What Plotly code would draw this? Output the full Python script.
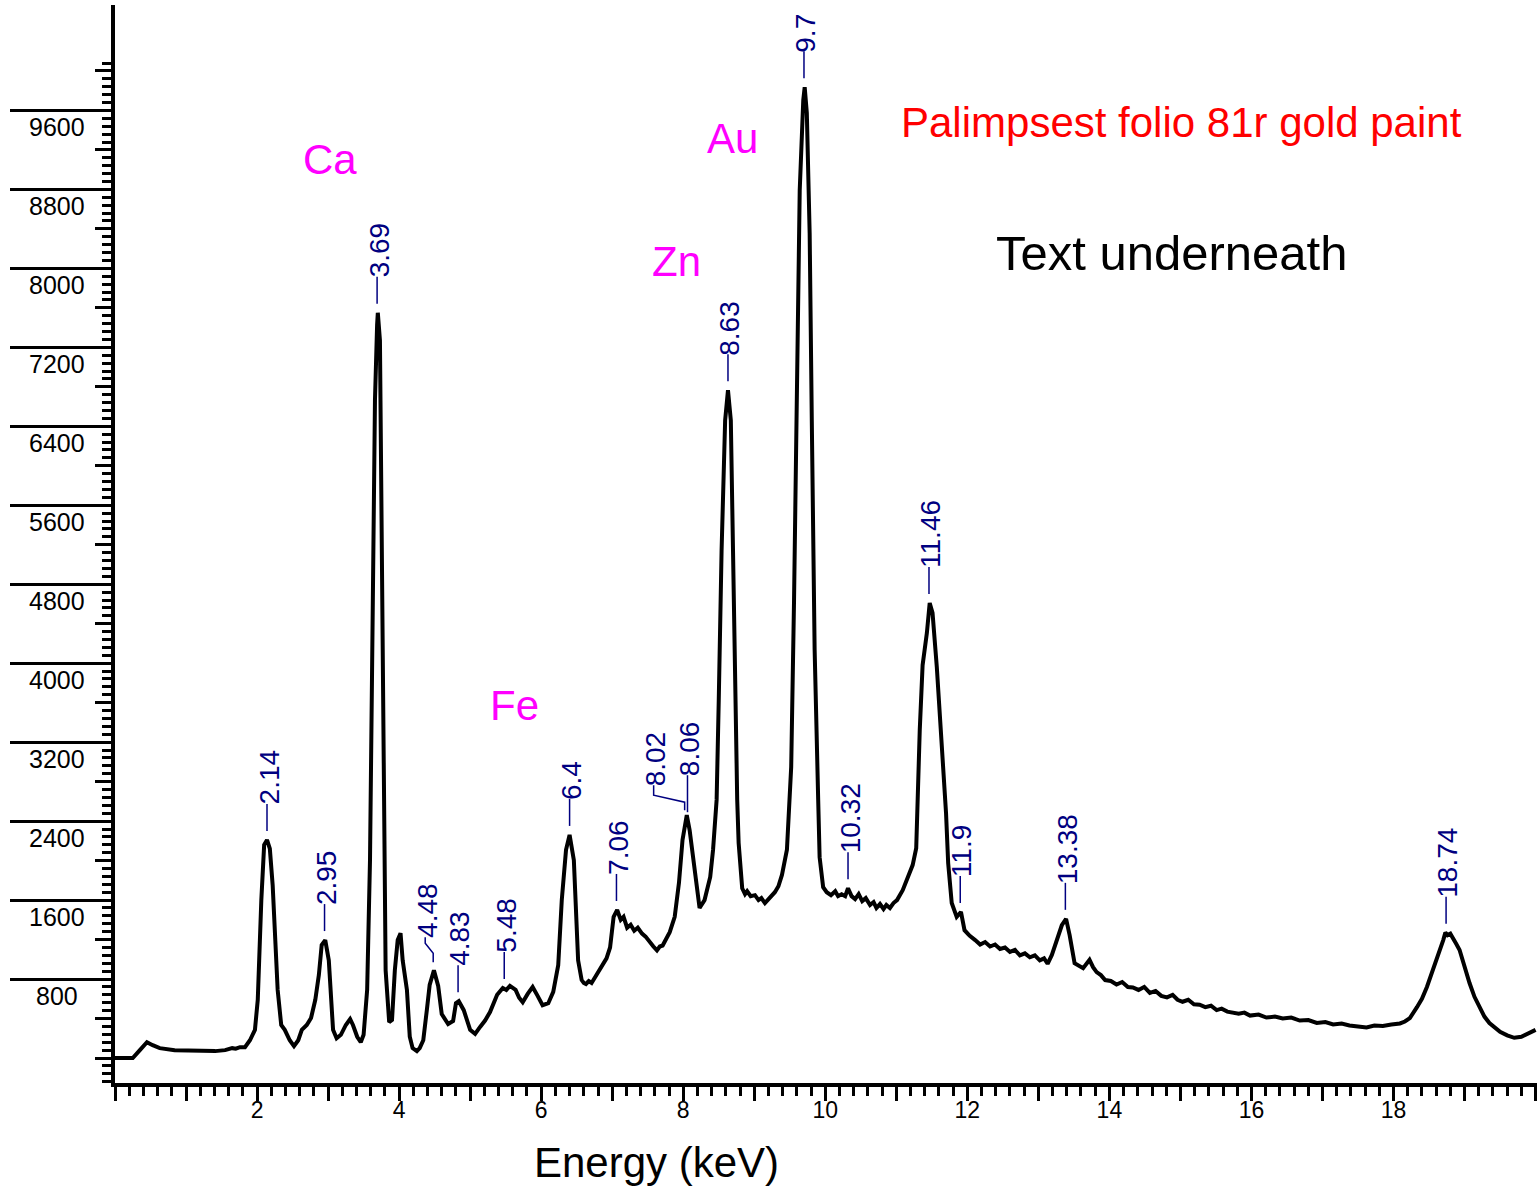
import plotly.graph_objects as go
import numpy as np

# ---------------- data ----------------
energy_kev = [0.00, 0.25, 0.35, 0.45, 0.53, 0.63, 0.84, 1.00, 1.20, 1.41, 1.55, 1.65, 1.70, 1.76, 1.83, 1.90, 1.97,
              2.01, 2.06, 2.10, 2.14, 2.18, 2.22, 2.26, 2.29, 2.34, 2.39, 2.46, 2.52, 2.58, 2.63, 2.70, 2.76,
              2.82, 2.87, 2.91, 2.96, 3.01, 3.04, 3.07, 3.12, 3.18, 3.25, 3.31, 3.35, 3.41, 3.46, 3.50,
              3.55, 3.59, 3.63, 3.66, 3.69, 3.70, 3.73, 3.76, 3.79, 3.81, 3.86, 3.90, 3.94, 3.98, 4.02,
              4.05, 4.11, 4.15, 4.19, 4.25, 4.29, 4.34, 4.39, 4.43, 4.49, 4.55, 4.60, 4.69, 4.76, 4.80,
              4.84, 4.91, 5.00, 5.07, 5.14, 5.21, 5.28, 5.33, 5.38, 5.46, 5.51, 5.56, 5.64, 5.69, 5.74, 5.81, 5.88, 5.95, 6.02,
              6.10, 6.17, 6.24, 6.29, 6.35, 6.40, 6.46, 6.52, 6.57, 6.60, 6.63, 6.67, 6.71, 6.76, 6.80, 6.84, 6.88, 6.92,
              6.97, 7.02, 7.07, 7.12, 7.16, 7.21, 7.26, 7.31, 7.36, 7.42, 7.47, 7.53, 7.58, 7.63, 7.67, 7.71, 7.76,
              7.81, 7.88, 7.94, 7.99, 8.05, 8.09, 8.15,
              8.21, 8.23, 8.30, 8.38, 8.42, 8.47, 8.50, 8.54, 8.59, 8.63, 8.67, 8.71, 8.76, 8.78, 8.83,
              8.87, 8.90, 8.95, 9.01, 9.06, 9.10, 9.15, 9.20, 9.25, 9.29, 9.34, 9.39, 9.46, 9.52, 9.56, 9.60, 9.64,
              9.69, 9.71, 9.74, 9.78, 9.81, 9.85, 9.90, 9.92, 9.97, 10.02, 10.08, 10.14, 10.18, 10.23, 10.28, 10.32,
              10.37, 10.42, 10.47, 10.52, 10.57, 10.63, 10.68, 10.72, 10.77, 10.82, 10.86, 10.91, 10.96, 11.01, 11.09,
              11.16, 11.23, 11.28, 11.30, 11.33, 11.37, 11.43, 11.47, 11.51, 11.57, 11.61, 11.66, 11.70, 11.73, 11.78,
              11.85, 11.91, 11.96, 12.03, 12.11, 12.18, 12.25, 12.32, 12.39, 12.46, 12.53, 12.60, 12.67, 12.74, 12.81,
              12.88, 12.95, 13.02, 13.08, 13.13, 13.19, 13.26, 13.33, 13.39,
              13.44, 13.51, 13.57, 13.63, 13.72, 13.77, 13.82, 13.88, 13.94, 14.02, 14.10, 14.18, 14.26, 14.33, 14.41,
              14.49, 14.57, 14.65, 14.73, 14.81, 14.89, 14.96, 15.03, 15.11, 15.19, 15.27, 15.35, 15.43, 15.51, 15.58,
              15.66, 15.74, 15.82, 15.90, 15.98, 16.10, 16.21, 16.33, 16.44, 16.56, 16.68, 16.80, 16.92, 17.04, 17.15,
              17.27, 17.38, 17.50, 17.62, 17.73, 17.85, 17.97, 18.09, 18.16, 18.23, 18.33, 18.40, 18.47, 18.54, 18.61,
              18.66, 18.70, 18.73, 18.76, 18.80, 18.83, 18.88, 18.93, 19.00, 19.07, 19.14, 19.21, 19.28, 19.35, 19.42,
              19.50, 19.60, 19.70, 19.80, 19.88, 19.94, 20.00]

counts = [0, 0, 80, 160, 130, 100, 80, 75, 70, 70, 80, 100, 95, 110, 110, 180, 285,
          590, 1600, 2160, 2210, 2120, 1750, 1100, 690, 335, 285, 180, 120, 180, 285, 335, 405,
          590, 840, 1145, 1195, 990, 590, 285, 200, 235, 335, 395, 335, 215, 160, 235,
          690, 2000, 4640, 6665, 7425, 7550, 7270, 4640, 2110, 890, 365, 385, 890, 1195, 1265,
          990, 690, 215, 100, 70, 100, 180, 485, 740, 890, 730, 445, 345, 375, 555,
          575, 485, 285, 245, 315, 380, 465, 560, 640, 710, 690, 730, 690, 610, 565, 650, 720, 630, 535,
          555, 670, 940, 1600, 2110, 2260, 2005, 990, 790, 760, 750, 780, 760, 820, 850, 900, 950, 1010,
          1120, 1430, 1500, 1400, 1430, 1320, 1350, 1290, 1320, 1260, 1230, 1170, 1130, 1090, 1130, 1140, 1200,
          1275, 1430, 1775, 2210, 2460, 2310, 1985,
          1600, 1520, 1600, 1835, 2110, 2615, 3625, 5145, 6460, 6765, 6460, 4640, 2615, 2180, 1720,
          1660, 1690, 1640, 1650, 1600, 1620, 1570, 1610, 1640, 1680, 1740, 1855, 2110, 2950, 4640, 6460, 8790,
          9705, 9835, 9575, 8355, 6460, 4135, 2615, 2035, 1730, 1680, 1650, 1690, 1640, 1660, 1640, 1720,
          1640, 1610, 1660, 1590, 1620, 1550, 1580, 1520, 1560, 1510, 1550, 1520, 1570, 1600, 1700,
          1835, 1955, 2125, 2645, 3325, 3980, 4305, 4610, 4510, 3960, 3495, 2990, 2480, 1975, 1570,
          1430, 1480, 1295, 1240, 1195, 1150, 1175, 1130, 1150, 1105, 1120, 1075, 1095, 1040, 1060,
          1020, 1040, 990, 1010, 955, 1045, 1195, 1345, 1410,
          1245, 960, 930, 910, 995, 920, 870, 840, 790, 780, 745, 770, 720, 715, 690,
          720, 660, 680, 630, 615, 640, 590, 570, 590, 545, 540, 515, 530, 485, 500,
          470, 465, 450, 460, 430, 440, 410, 420, 400, 410, 380, 385, 355, 365, 340,
          350, 330, 320, 310, 330, 325, 340, 350, 370, 405, 515, 600, 720, 860, 1025,
          1120, 1195, 1270, 1245, 1260, 1215, 1160, 1095, 920, 760, 620, 515, 420, 355, 310,
          265, 230, 205, 215, 240, 260, 285]

peak_labels = ['2.14', '2.95', '3.69', '4.48', '4.83', '5.48', '6.4', '7.06', '8.02', '8.06',
               '8.63', '9.7', '10.32', '11.46', '11.9', '13.38', '18.74']

element_names = ['Ca', 'Zn', 'Au', 'Fe']

y_tick_labels = ['800', '1600', '2400', '3200', '4000', '4800', '5600', '6400', '7200', '8000', '8800', '9600']
x_tick_labels = ['2', '4', '6', '8', '10', '12', '14', '16', '18']

title_text = 'Palimpsest folio 81r gold paint'
subtitle_text = 'Text underneath'
x_title = 'Energy (keV)'

# ---------------- figure ----------------
FONT = 'Liberation Sans, Arial, sans-serif'
NAVY = '#000080'
e = np.array(energy_kev)
c = np.array(counts)

fig = go.Figure()
fig.add_trace(go.Scatter(x=e, y=c, mode='lines',
                         line=dict(color='black', width=4), showlegend=False, hoverinfo='skip'))

y_major_vals = [float(v) for v in y_tick_labels]
y_medium_vals = list(range(0, 10001, 400))
y_minor_vals = list(range(-240, 10081, 80))
x_label_vals = [float(v) for v in x_tick_labels]
XR = [0, 20.02]
YR = [-253, 10668]

fig.update_layout(
    template='none',
    width=1537, height=1189,
    margin=dict(l=115, r=0, t=5, b=106, autoexpand=False),
    paper_bgcolor='white', plot_bgcolor='white',
    font=dict(family=FONT, color='black'),
    showlegend=False,
    xaxis=dict(range=XR, showgrid=False, zeroline=False, automargin=False,
               showline=True, linecolor='black', linewidth=4,
               ticks='outside', ticklen=14, tickwidth=3, tickcolor='black',
               tickmode='array', tickvals=list(range(0, 21)), showticklabels=False,
               minor=dict(tickmode='array', tickvals=[round(0.2 * i, 1) for i in range(0, 101)],
                          ticks='outside', ticklen=9, tickwidth=3, tickcolor='black', showgrid=False)),
    # label-only x axis (labels sit a little closer to the axis than the tick ends)
    xaxis2=dict(range=XR, overlaying='x', side='bottom', showgrid=False, zeroline=False,
                automargin=False, showline=False, ticks='outside', ticklen=6,
                tickcolor='rgba(0,0,0,0)', tickmode='array', tickvals=x_label_vals,
                ticktext=x_tick_labels, tickfont=dict(size=23, family=FONT, color='black')),
    yaxis=dict(range=YR, showgrid=False, zeroline=False, automargin=False,
               showline=True, linecolor='black', linewidth=4,
               ticks='outside', ticklen=16, tickwidth=3, tickcolor='black',
               tickmode='array', tickvals=y_medium_vals, showticklabels=False,
               minor=dict(tickmode='array', tickvals=y_minor_vals,
                          ticks='outside', ticklen=9, tickwidth=3, tickcolor='black', showgrid=False)),
    yaxis2=dict(range=YR, overlaying='y', side='left', showgrid=False, zeroline=False,
                automargin=False, showline=False, ticks='outside', ticklen=104, tickwidth=3,
                tickcolor='black', tickmode='array', tickvals=y_major_vals, showticklabels=False),
)
# invisible trace that activates the overlay axes (long major y ticks, x labels)
fig.add_trace(go.Scatter(x=[0], y=[0], xaxis='x2', yaxis='y2', mode='markers',
                         marker=dict(opacity=0), showlegend=False, hoverinfo='skip'))

annotations = []
# y tick labels under the long tick lines
for lab, v in zip(y_tick_labels, y_major_vals):
    annotations.append(dict(x=-0.0405, xref='paper', y=v, yref='y', text=lab, showarrow=False,
                            xanchor='center', yanchor='middle', yshift=-17,
                            font=dict(size=25, family=FONT, color='black')))

# peak labels with leader lines
shapes = []
for lab in peak_labels:
    xv = float(lab)
    ref = 8.06 if lab == '8.02' else xv
    m = (e >= ref - 0.06) & (e <= ref + 0.06)
    peak = float(c[m].max()) if m.any() else float(np.interp(ref, e, c))
    if lab == '4.48':
        path = 'M0,8 L0,17 L-8,27 L-8,33'
        txt_shift, xs = 33, -8
    elif lab == '8.02':
        path = 'M0,5 L0,13 L-31,20 L-31,30'
        txt_shift, xs = 30, -31
    elif lab == '8.06':
        path = 'M0,3 L0,40'
        txt_shift, xs = 40, 0
    else:
        path = 'M0,9 L0,36'
        txt_shift, xs = 36, 0
    shapes.append(dict(type='path', xref='x', yref='y', xsizemode='pixel', ysizemode='pixel',
                       xanchor=xv, yanchor=peak, path=path,
                       line=dict(color=NAVY, width=1.5)))
    annotations.append(dict(x=xv, y=peak, xref='x', yref='y', text=lab, showarrow=False,
                            textangle=-90, xanchor='center', yanchor='bottom',
                            yshift=txt_shift - 2, xshift=xs + 2, borderpad=0,
                            font=dict(size=28, family=FONT, color=NAVY)))

# element names
element_pos = {'Ca': (3.03, 9107), 'Zn': (7.91, 8074), 'Au': (8.70, 9320), 'Fe': (5.63, 3576)}
for name in element_names:
    ex, ey = element_pos[name]
    annotations.append(dict(x=ex, y=ey, xref='x', yref='y', text=name, showarrow=False,
                            xanchor='center', yanchor='middle',
                            font=dict(size=42, family=FONT, color='#FF00FF')))

annotations.append(dict(x=15.02, y=9475, xref='x', yref='y', text=title_text, showarrow=False,
                        xanchor='center', yanchor='middle', font=dict(size=42, family=FONT, color='#FF0000')))
annotations.append(dict(x=14.87, y=8155, xref='x', yref='y', text=subtitle_text, showarrow=False,
                        xanchor='center', yanchor='middle', font=dict(size=49, family=FONT, color='black')))
annotations.append(dict(x=0.381, xref='paper', y=-0.0742, yref='paper', text=x_title, showarrow=False,
                        xanchor='center', yanchor='middle', font=dict(size=42, family=FONT, color='black')))

fig.update_layout(annotations=annotations, shapes=shapes)
fig.write_html('out.html', config={'displayModeBar': False},
               post_script="document.body.style.margin='0px';document.body.style.overflow='hidden';")
